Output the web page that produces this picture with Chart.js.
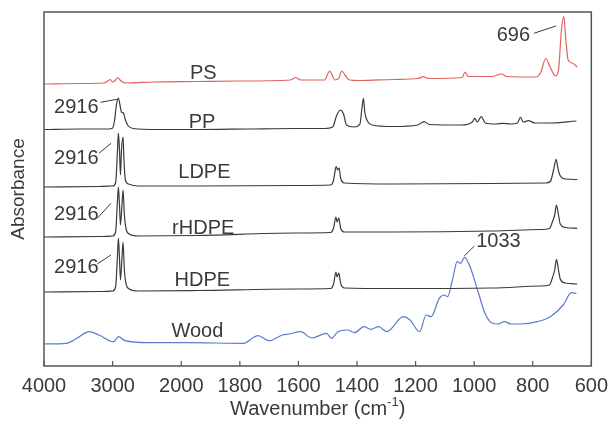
<!DOCTYPE html>
<html>
<head>
<meta charset="utf-8">
<script src="https://cdn.jsdelivr.net/npm/chart.js@4.4.1/dist/chart.umd.min.js"></script>
<style>
  html, body { margin:0; padding:0; background:#fff; }
  #wrap { width:616px; height:425px; }
</style>
</head>
<body>
<div id="wrap"><canvas id="chart" width="616" height="425"></canvas></div>
<script>
// --- data (wavenumber in cm-1, absorbance stacked as plotted) ---
const tickWaves = [4000, 3000, 2000, 1800, 1600, 1400, 1200, 1000, 800, 600];

const psWave = [4000,3486,3129,3071,3033,3000,2957,2924,2886,2814,2390,1945,1811,1627,1610,1593,1510,1500,1493,1485,1476,1462,1452,1441,1425,1392,1275,1191,1174,1158,1041,1031,1021,940,906,890,789,772,756,739,722,712,702,694,687,679,665,648];
const psAbs  = [2.82,2.825,2.83,2.85,2.865,2.84,2.86,2.885,2.855,2.83,2.84,2.845,2.85,2.86,2.885,2.86,2.86,2.92,2.95,2.91,2.86,2.88,2.95,2.91,2.86,2.855,2.865,2.875,2.893,2.875,2.885,2.94,2.895,2.895,2.92,2.895,2.89,2.94,3.075,2.98,2.90,2.96,3.36,3.493,3.26,3.06,3.03,2.99];

const ppWave = [4000,3486,3057,3000,2971,2943,2916,2893,2871,2843,2814,2771,2700,2343,1945,1777,1610,1510,1483,1470,1457,1446,1436,1410,1390,1383,1378,1373,1363,1349,1276,1193,1171,1153,1043,1006,998,989,976,962,925,903,875,852,842,832,815,792,742,651];
const ppAbs  = [2.365,2.37,2.37,2.38,2.46,2.62,2.68,2.61,2.54,2.53,2.46,2.40,2.375,2.365,2.365,2.37,2.375,2.375,2.39,2.50,2.56,2.52,2.41,2.39,2.42,2.58,2.677,2.53,2.443,2.41,2.395,2.41,2.443,2.415,2.41,2.44,2.477,2.44,2.493,2.43,2.42,2.427,2.42,2.43,2.487,2.44,2.453,2.43,2.43,2.45];

const ldpeWave = [4000,3200,3000,2957,2929,2916,2900,2886,2871,2848,2835,2814,2771,2629,1945,1610,1490,1480,1473,1471,1466,1461,1456,1443,1276,940,756,739,729,720,716,709,689,648];
const ldpeAbs  = [1.79,1.795,1.80,1.83,2.16,2.33,2.16,1.91,2.16,2.29,2.06,1.86,1.82,1.80,1.80,1.805,1.81,1.86,1.98,1.993,1.96,1.98,1.88,1.83,1.82,1.825,1.83,1.85,1.96,2.067,2.01,1.92,1.87,1.865];

const rhdpeWave = [4000,3200,3000,2957,2929,2916,2900,2886,2864,2848,2829,2800,2757,2629,1945,1610,1490,1480,1472,1468,1462,1456,1443,1276,940,773,743,733,725,719,712,706,689,648];
const rhdpeAbs  = [1.29,1.295,1.30,1.34,1.66,1.79,1.61,1.41,1.61,1.76,1.51,1.36,1.32,1.30,1.305,1.33,1.335,1.38,1.49,1.44,1.48,1.38,1.34,1.34,1.35,1.365,1.375,1.44,1.51,1.61,1.51,1.42,1.385,1.377];

const hdpeWave = [4000,3200,3000,2957,2929,2916,2900,2886,2864,2848,2829,2800,2757,2629,1945,1610,1490,1480,1472,1468,1462,1456,1443,1276,940,773,743,733,725,719,712,706,689,648];
const hdpeAbs  = [0.74,0.745,0.75,0.79,1.11,1.28,1.08,0.86,1.08,1.24,0.96,0.81,0.77,0.75,0.755,0.77,0.775,0.82,0.94,0.89,0.93,0.83,0.78,0.775,0.78,0.80,0.81,0.88,0.96,1.067,0.96,0.87,0.83,0.82];

const woodWave = [4000,3676,3514,3343,3200,2986,2914,2819,2486,1978,1788,1738,1699,1655,1632,1593,1554,1504,1487,1465,1432,1409,1376,1353,1326,1298,1242,1219,1186,1164,1147,1119,1102,1091,1074,1058,1046,1033,1014,985,963,941,918,897,874,841,785,740,696,668,651];
const woodAbs  = [0.22,0.227,0.28,0.343,0.31,0.243,0.293,0.253,0.233,0.233,0.227,0.303,0.253,0.31,0.32,0.343,0.28,0.327,0.277,0.343,0.36,0.333,0.393,0.367,0.393,0.343,0.493,0.46,0.343,0.51,0.493,0.677,0.71,0.693,0.86,1.043,1.027,1.087,0.993,0.727,0.527,0.433,0.42,0.443,0.42,0.42,0.443,0.493,0.61,0.733,0.727];

const seriesNames = ['PS', 'PP', 'LDPE', 'rHDPE', 'HDPE', 'Wood'];

// --- broken wavenumber axis: 4000-2000 compressed, 2000-600 expanded ---
function waveToU(w) {
  return w >= 2000 ? (4000 - w) * 0.07 : 140 + (2000 - w) * 0.29875;
}
function pts(ws, as) { return ws.map((w, i) => ({x: waveToU(w), y: as[i]})); }

const GREY = '#3a3a3a';
const FONT = '"Liberation Sans", Arial, sans-serif';

// annotation anchors (in wavenumber / absorbance)
const names = [
  {t:'PS', w:1925, a:2.93}, {t:'PP', w:1929, a:2.44}, {t:'LDPE', w:1921, a:1.94},
  {t:'rHDPE', w:1925, a:1.38}, {t:'HDPE', w:1928, a:0.853}, {t:'Wood', w:1945, a:0.35}
];
const peaks = [
  {t:'2916', w:3529, a:2.59, from:[3176,2.637], to:[2939,2.667]},
  {t:'2916', w:3529, a:2.08, from:[3200,2.127], to:[3024,2.227]},
  {t:'2916', w:3529, a:1.52, from:[3224,1.477], to:[3024,1.627]},
  {t:'2916', w:3529, a:0.99, from:[3224,1.02],  to:[3024,1.11]},
  {t:'696',  w:866,  a:3.31, from:[796,3.327],  to:[721,3.40]},
  {t:'1033', w:917,  a:1.243, from:[999,1.20],  to:[1034,1.10]}
];

const decor = {
  id: 'decor',
  afterDraw(c) {
    const {ctx, chartArea: ca} = c;
    const xs = c.scales.x, ys = c.scales.y;
    ctx.save();
    // frame
    ctx.strokeStyle = '#555';
    ctx.lineWidth = 1.5;
    ctx.strokeRect(ca.left, ca.top, ca.right - ca.left, ca.bottom - ca.top);
    // inward ticks
    ctx.lineWidth = 1.2;
    tickWaves.forEach(w => {
      const px = xs.getPixelForValue(waveToU(w));
      ctx.beginPath(); ctx.moveTo(px, ca.bottom); ctx.lineTo(px, ca.bottom - 5); ctx.stroke();
    });
    // labels
    ctx.fillStyle = GREY;
    ctx.textAlign = 'center';
    ctx.textBaseline = 'middle';
    ctx.font = '20px ' + FONT;
    names.forEach(n => ctx.fillText(n.t, xs.getPixelForValue(waveToU(n.w)), ys.getPixelForValue(n.a)));
    ctx.strokeStyle = GREY;
    ctx.lineWidth = 1;
    peaks.forEach(p => {
      ctx.fillText(p.t, xs.getPixelForValue(waveToU(p.w)), ys.getPixelForValue(p.a));
      ctx.beginPath();
      ctx.moveTo(xs.getPixelForValue(waveToU(p.from[0])), ys.getPixelForValue(p.from[1]));
      ctx.lineTo(xs.getPixelForValue(waveToU(p.to[0])), ys.getPixelForValue(p.to[1]));
      ctx.stroke();
    });
    // x title with superscript
    const main = 'Wavenumber (cm', sup = '-1', end = ')';
    ctx.font = '20px ' + FONT;
    const w1 = ctx.measureText(main).width, w3 = ctx.measureText(end).width;
    ctx.font = '13px ' + FONT;
    const w2 = ctx.measureText(sup).width;
    let x0 = (ca.left + ca.right) / 2 - (w1 + w2 + w3) / 2;
    const ty = 409;
    ctx.textAlign = 'left';
    ctx.font = '20px ' + FONT;
    ctx.fillText(main, x0, ty);
    ctx.font = '13px ' + FONT;
    ctx.fillText(sup, x0 + w1, ty - 7);
    ctx.font = '20px ' + FONT;
    ctx.fillText(end, x0 + w1 + w2, ty);
    // y title
    ctx.translate(19, (ca.top + ca.bottom) / 2);
    ctx.rotate(-Math.PI / 2);
    ctx.textAlign = 'center';
    ctx.font = '19px ' + FONT;
    ctx.fillText('Absorbance', 0, 0);
    ctx.restore();
  }
};

const line = (label, data, color) => ({
  label, data, borderColor: color, borderWidth: 1.2, pointRadius: 0, showLine: true,
  cubicInterpolationMode: 'monotone'
});

new Chart(document.getElementById('chart'), {
  type: 'scatter',
  data: {
    datasets: [
      line(seriesNames[0], pts(psWave, psAbs), '#e2605b'),
      line(seriesNames[1], pts(ppWave, ppAbs), GREY),
      line(seriesNames[2], pts(ldpeWave, ldpeAbs), GREY),
      line(seriesNames[3], pts(rhdpeWave, rhdpeAbs), GREY),
      line(seriesNames[4], pts(hdpeWave, hdpeAbs), GREY),
      line(seriesNames[5], pts(woodWave, woodAbs), '#5a7ccc')
    ]
  },
  options: {
    responsive: false,
    animation: false,
    layout: { padding: { top: 12, right: 15, left: 0, bottom: 0 } },
    plugins: { legend: { display: false }, tooltip: { enabled: false } },
    scales: {
      x: {
        type: 'linear', min: 0, max: waveToU(600),
        grid: { display: false, drawTicks: false },
        border: { display: false },
        afterBuildTicks: s => { s.ticks = tickWaves.map(w => ({value: waveToU(w)})); },
        afterFit: s => { s.height = 59; },
        ticks: {
          autoSkip: false, maxRotation: 0, padding: 8, color: GREY,
          font: { size: 20, family: FONT },
          callback: (v, i) => tickWaves[i]
        }
      },
      y: {
        min: 0, max: 3.54,
        grid: { display: false, drawTicks: false },
        border: { display: false },
        ticks: { display: false },
        afterFit: s => { s.width = 44; }
      }
    }
  },
  plugins: [decor]
});
</script>
</body>
</html>
